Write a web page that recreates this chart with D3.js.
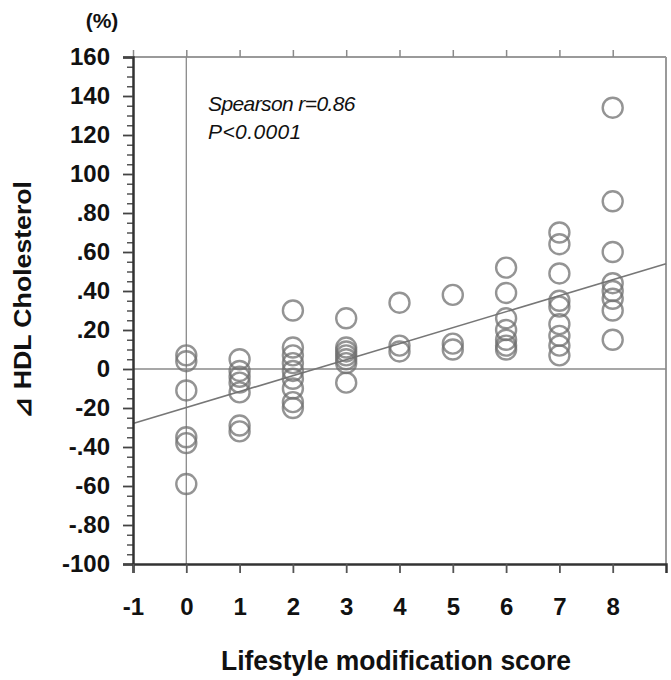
<!DOCTYPE html>
<html>
<head>
<meta charset="utf-8">
<script src="https://cdn.jsdelivr.net/npm/d3@7"></script>
<style>
  body { margin: 0; background: #fff; }
  text { font-family: "Liberation Sans", Arial, sans-serif; }
</style>
</head>
<body>
<svg id="chart" width="671" height="680"></svg>
<script>
// lifestyle modification score (x) and % change in HDL cholesterol per score
const scores = [0, 1, 2, 3, 4, 5, 6, 7, 8];
const hdlChange = [
  [7, 4, -11, -35, -38, -59],
  [5, -1, -4, -7, -12, -29, -32],
  [30, 11, 7, 3, -1, -5, -10, -17, -20],
  [26, 11, 9, 7, 5, 3, -7],
  [34, 12, 9],
  [38, 13, 10],
  [52, 39, 26, 20, 15, 12, 10],
  [70, 64, 49, 35, 32, 23, 17, 12, 7],
  [134, 86, 60, 44, 40, 36, 30, 15]
];
const fitX = [-1, 9];
const fitY = [-28, 54];
const xTicks = [-1, 0, 1, 2, 3, 4, 5, 6, 7, 8];
const yTicks = [160, 140, 120, 100, 80, 60, 40, 20, 0, -20, -40, -60, -80, -100];
const yTickLabels = ["160", "140", "120", "100", ".80", ".60", ".40", ".20", "0", "-20", "-.40", "-60", "-.80", "-100"];

const svg = d3.select('#chart');
const margin = {top: 57, left: 133};
const innerWidth = 533, innerHeight = 507;

const x = d3.scaleLinear().domain([-1, 9]).range([0, innerWidth]);
const y = d3.scaleLinear().domain([-100, 160]).range([innerHeight, 0]);

const g = svg.append('g')
  .attr('transform', `translate(${margin.left},${margin.top})`);

// top and right frame (gray)
g.append('line').attr('x1', 0).attr('x2', innerWidth).attr('y1', 0).attr('y2', 0)
  .attr('stroke', '#9a9a9a').attr('stroke-width', 2);
g.append('line').attr('x1', innerWidth).attr('x2', innerWidth).attr('y1', 0).attr('y2', innerHeight)
  .attr('stroke', '#9a9a9a').attr('stroke-width', 2);

// top axis ticks
const topAxis = g.append('g')
  .call(d3.axisTop(x).tickValues(xTicks).tickSize(7).tickFormat(''));
topAxis.select('.domain').remove();
topAxis.selectAll('line').attr('stroke', '#8a8a8a').attr('stroke-width', 1.5);

// reference lines at x=0 and y=0
g.append('line').attr('x1', x(0)).attr('x2', x(0)).attr('y1', 0).attr('y2', innerHeight)
  .attr('stroke', '#8a8a8a').attr('stroke-width', 1.3);
g.append('line').attr('x1', 0).attr('x2', innerWidth).attr('y1', y(0)).attr('y2', y(0))
  .attr('stroke', '#8a8a8a').attr('stroke-width', 1.3);

// regression line
g.append('line')
  .attr('x1', x(fitX[0])).attr('y1', y(fitY[0]))
  .attr('x2', x(fitX[1])).attr('y2', y(fitY[1]))
  .attr('stroke', '#777').attr('stroke-width', 1.6);

// data points
const points = [];
scores.forEach((s, i) => hdlChange[i].forEach(v => points.push({s, v})));
g.selectAll('circle.pt')
  .data(points)
  .enter()
  .append('circle')
  .attr('class', 'pt')
  .attr('cx', d => x(d.s))
  .attr('cy', d => y(d.v))
  .attr('r', 10)
  .attr('fill', 'none')
  .attr('stroke', '#707070')
  .attr('stroke-opacity', 0.75)
  .attr('stroke-width', 2.4);

// left axis: minor ticks
const minor = d3.range(-100, 161, 5).filter(v => v % 20 !== 0);
const leftMinor = g.append('g')
  .call(d3.axisLeft(y).tickValues(minor).tickSize(6).tickFormat(''));
leftMinor.select('.domain').remove();
leftMinor.selectAll('line').attr('stroke', '#555').attr('stroke-width', 1.5);

// left axis: major ticks and labels
const leftAxis = g.append('g')
  .call(d3.axisLeft(y).tickValues(yTicks).tickSize(10).tickPadding(13)
    .tickFormat((d, i) => yTickLabels[i]));
leftAxis.select('.domain').attr('stroke', '#333').attr('stroke-width', 2.5);
leftAxis.selectAll('line').attr('stroke', '#444').attr('stroke-width', 1.8);
leftAxis.selectAll('text')
  .attr('font-size', 24).attr('font-weight', 'bold').attr('fill', '#111');

// bottom axis
const bottomAxis = g.append('g')
  .attr('transform', `translate(0,${innerHeight})`)
  .call(d3.axisBottom(x).tickValues(xTicks).tickSize(9).tickPadding(25)
    .tickFormat(d => String(d)));
bottomAxis.select('.domain').attr('stroke', '#333').attr('stroke-width', 2.5);
bottomAxis.selectAll('line').attr('stroke', '#555').attr('stroke-width', 1.8);
bottomAxis.selectAll('text')
  .attr('font-size', 24).attr('font-weight', 'bold').attr('fill', '#111');

// annotation
g.append('text').attr('x', 75).attr('y', 54)
  .attr('font-size', 21).attr('font-style', 'italic').attr('fill', '#111')
  .attr('letter-spacing', -0.6)
  .text('Spearson r=0.86');
g.append('text').attr('x', 75).attr('y', 82)
  .attr('font-size', 21).attr('font-style', 'italic').attr('fill', '#111')
  .attr('letter-spacing', 0.4)
  .text('P<0.0001');

// axis titles
svg.append('text').attr('x', 396).attr('y', 670)
  .attr('text-anchor', 'middle').attr('font-size', 27).attr('font-weight', 'bold')
  .attr('textLength', 350).attr('lengthAdjust', 'spacingAndGlyphs').attr('fill', '#111')
  .text('Lifestyle modification score');

svg.append('text')
  .attr('transform', 'translate(31,300) rotate(-90)')
  .attr('text-anchor', 'middle').attr('font-size', 24).attr('font-weight', 'bold')
  .attr('textLength', 238).attr('lengthAdjust', 'spacingAndGlyphs')
  .attr('fill', '#111')
  .text('⊿ HDL Cholesterol');

svg.append('text').attr('x', 102).attr('y', 28)
  .attr('text-anchor', 'middle').attr('font-size', 21).attr('font-weight', 'bold')
  .attr('fill', '#111')
  .text('(%)');
</script>
</body>
</html>
